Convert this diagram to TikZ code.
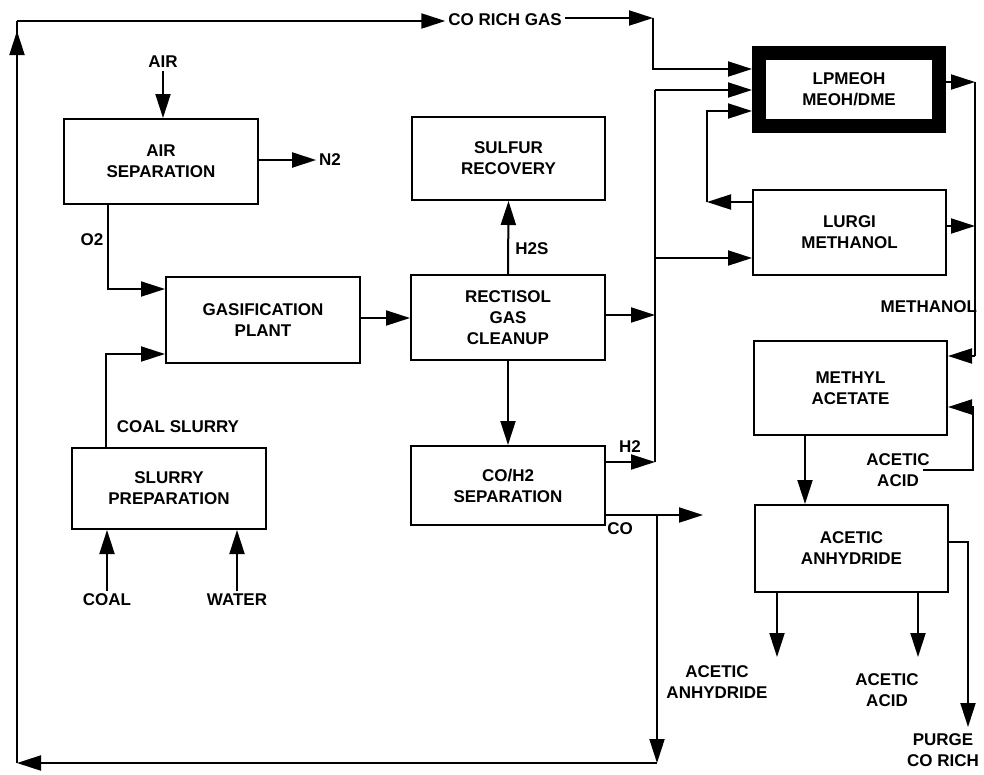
\documentclass[tikz,border=0pt]{standalone}
\usepackage{fontspec}
\setmainfont{Liberation Sans}
\usetikzlibrary{arrows.meta,calc}
\newcommand{\lblfont}{\bfseries\fontsize{17}{21}\selectfont}
\begin{document}
\begin{tikzpicture}[x=1pt,y=-1pt,
  box/.style={draw, line width=2pt, align=center, font=\lblfont, inner sep=0pt},
  lbl/.style={align=center, font=\lblfont, inner sep=0pt, outer sep=3pt},
  flow/.style={line width=2pt, -{Triangle[length=24pt,width=15pt]}},
  pipe/.style={line width=2pt}]
\useasboundingbox (0,0) rectangle (984,774);

% boxes
\node[box, minimum width=194pt, minimum height=85pt] (airsep) at (161,161.5) {AIR\\SEPARATION};
\node[box, minimum width=194pt, minimum height=86pt] (gas) at (263,320) {GASIFICATION\\PLANT};
\node[box, minimum width=194pt, minimum height=81pt] (slurry) at (169,488.5) {SLURRY\\PREPARATION};
\node[box, minimum width=193pt, minimum height=83pt] (sulfur) at (508.5,158.5) {SULFUR\\RECOVERY};
\node[box, minimum width=194pt, minimum height=85pt] (rect) at (508,317.5) {RECTISOL\\GAS\\CLEANUP};
\node[box, minimum width=194pt, minimum height=79pt] (coh2) at (508,485.5) {CO/H2\\SEPARATION};
\node[box, line width=14pt, minimum width=180pt, minimum height=73pt] (lpm) at (849,89.5) {LPMEOH\\MEOH/DME};
\node[box, minimum width=193pt, minimum height=85pt] (lurgi) at (849.5,232.5) {LURGI\\METHANOL};
\node[box, minimum width=193pt, minimum height=94pt] (meth) at (850.5,388) {METHYL\\ACETATE};
\node[box, minimum width=193pt, minimum height=87pt] (anh) at (851.5,548.5) {ACETIC\\ANHYDRIDE};

% labels
\node[lbl] (air) at (163,62) {AIR};
\node[lbl] (n2) at (330,160) {N2};
\node[lbl] (o2) at (92,240) {O2};
\node[lbl] (cs) at (178,427) {COAL SLURRY};
\node[lbl] (coal) at (107,600) {COAL};
\node[lbl] (water) at (237,600) {WATER};
\node[lbl] (h2s) at (532,249) {H2S};
\node[lbl] (h2) at (630,447) {H2};
\node[lbl] (co) at (620,529) {CO};
\node[lbl] (cor) at (505,20) {CO RICH GAS};
\node[lbl, anchor=east, outer sep=0pt] (methanol) at (977,307) {METHANOL};
\node[lbl] (aacid) at (898,470) {ACETIC\\ACID};
\node[lbl] (panh) at (717,682) {ACETIC\\ANHYDRIDE};
\node[lbl] (pacid) at (887,690) {ACETIC\\ACID};
\node[lbl] (purge) at (943,750) {PURGE\\CO RICH};

% junction coordinates
\coordinate (o2bend) at (108,289);
\coordinate (csbend) at (106,354);
\coordinate (gr) at (0,318);
\coordinate (rt) at (655,315);
\coordinate (h2j) at (655,462);
\coordinate (t2) at (655,90);
\coordinate (t3) at (655,258);
\coordinate (cr2) at (653,18);
\coordinate (cr3) at (653,69);
\coordinate (rc1) at (707,202);
\coordinate (rc2) at (707,111);
\coordinate (tl) at (17,21);
\coordinate (tla) at (17,31);
\coordinate (bl) at (17,763);
\coordinate (br) at (657,763);
\coordinate (coj) at (657,515);
\coordinate (coend) at (703,515);
\coordinate (m1) at (975,82);
\coordinate (m3) at (975,226);
\coordinate (m2) at (975,356);
\coordinate (aa0) at (923,470);
\coordinate (aa1) at (973,470);
\coordinate (aa2) at (973,407);
\coordinate (mx) at (805,0);
\coordinate (p1) at (777,657);
\coordinate (p2) at (918,657);
\coordinate (pg1) at (968,542);
\coordinate (pg2) at (968,727);

% left side
\draw[flow] (air) -- (air |- airsep.north);
\draw[flow] (airsep.east |- n2) -- (n2);
\draw[flow] (airsep.south -| o2bend) -- (o2bend) -- (gas.west |- o2bend);
\draw[flow] (slurry.north -| csbend) -- (csbend) -- (gas.west |- csbend);
\draw[flow] (coal) -- (coal |- slurry.south);
\draw[flow] (water) -- (water |- slurry.south);
\draw[flow] (gas.east |- gr) -- (rect.west |- gr);
\draw[flow] (rect.north) -- (sulfur.south);
\draw[flow] (rect.south) -- (coh2.north);

% middle trunk
\draw[flow] (rect.east |- rt) -- (rt);
\draw[flow] (coh2.east |- h2j) -- (h2j);
\draw[pipe] (h2j) -- (t2);
\draw[flow] (t2) -- (lpm.west |- t2);
\draw[flow] (t3) -- (lurgi.west |- t3);

% CO rich gas loop
\draw[flow] (coh2.east |- coj) -- (coend);
\draw[flow] (coj) -- (br);
\draw[flow] (br) -- (bl);
\draw[pipe] (bl) -- (tl);
\draw[flow] (bl) -- (tla);
\draw[flow] (tl) -- (cor.west |- tl);
\draw[flow] (cor.east |- cr2) -- (cr2);
\draw[flow] (cr2) -- (cr3) -- (lpm.west |- cr3);

% recycle from Lurgi
\draw[flow] (lurgi.west |- rc1) -- (rc1);
\draw[flow] (rc1) -- (rc2) -- (lpm.west |- rc2);

% methanol to methyl acetate
\draw[flow] (lpm.east |- m1) -- (m1);
\draw[flow] (lurgi.east |- m3) -- (m3);
\draw[pipe] (m1) -- (m2);
\draw[flow] (m2) -- (meth.east |- m2);
\draw[flow] (aa0) -- (aa1) -- (aa2) -- (meth.east |- aa2);
\draw[flow] (meth.south -| mx) -- (anh.north -| mx);

% products
\draw[flow] (anh.south -| p1) -- (p1);
\draw[flow] (anh.south -| p2) -- (p2);
\draw[flow] (anh.east |- pg1) -- (pg1) -- (pg2);
\end{tikzpicture}
\end{document}
